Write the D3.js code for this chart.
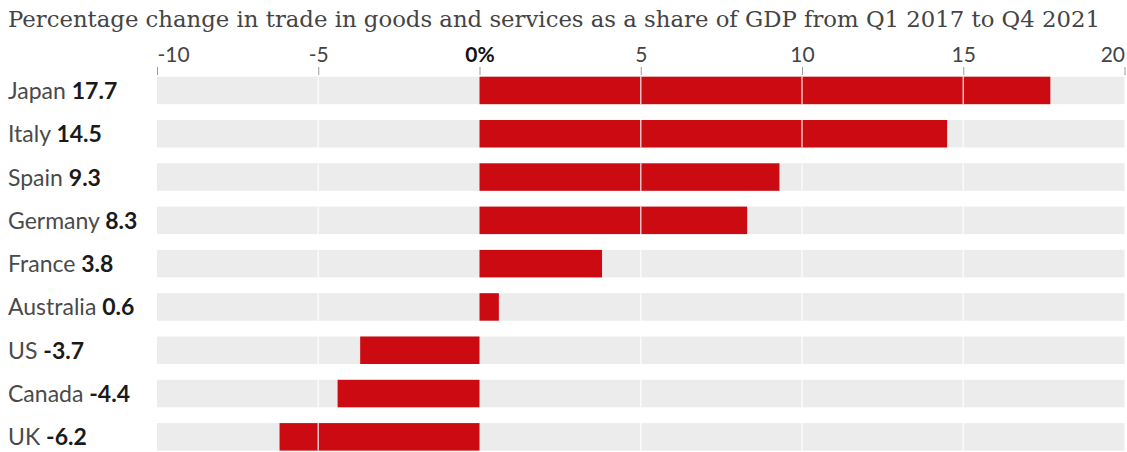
<!DOCTYPE html>
<meta charset="utf-8">
<style>
  body { margin: 0; background: #fff; }
</style>

<!-- Load d3.js -->
<script src="https://d3js.org/d3.v7.min.js"></script>

<!-- Create a div where the graph will take place -->
<div id="my_dataviz"></div>

<script>

// data
var countries = ["Japan", "Italy", "Spain", "Germany", "France", "Australia", "US", "Canada", "UK"]
var changes = [17.7, 14.5, 9.3, 8.3, 3.8, 0.6, -3.7, -4.4, -6.2]
var tickValues = [-10, -5, 0, 5, 10, 15, 20]
var gridValues = [-5, 5, 10, 15]
var title = "Percentage change in trade in goods and services as a share of GDP from Q1 2017 to Q4 2021"

var data = countries.map(function(c, i) { return {country: c, value: changes[i]} })

var width = 1127, height = 452

var svg = d3.select("#my_dataviz")
  .append("svg")
    .attr("width", width)
    .attr("height", height)

// title
svg.append("text")
  .attr("x", 8)
  .attr("y", 27)
  .attr("textLength", 1092)
  .attr("lengthAdjust", "spacingAndGlyphs")
  .style("font-family", "'DejaVu Serif', serif")
  .style("font-size", "22px")
  .style("fill", "#444")
  .text(title)

// X scale
var x = d3.scaleLinear()
  .domain([-10, 20])
  .range([157, 1124.5])

// Y scale, one band per country
var y = d3.scaleBand()
  .domain(countries)
  .range([76.7, 450.6])
  .paddingInner(0.365)
  .paddingOuter(0)

// axis on top
var axis = svg.append("g")
  .attr("transform", "translate(0,75)")
  .call(d3.axisTop(x)
    .tickValues(tickValues)
    .tickSize(8)
    .tickPadding(5)
    .tickFormat(function(d) { return d === 0 ? "0%" : d }))

axis.select(".domain").remove()
axis.selectAll(".tick line")
  .attr("stroke", "#9a9a9a")
axis.selectAll(".tick text")
  .style("font-family", "Lato, 'Open Sans', sans-serif")
  .style("font-size", "21px")
  .style("fill", function(d) { return d === 0 ? "#121212" : "#444" })
  .style("font-weight", function(d) { return d === 0 ? "bold" : "normal" })
  .attr("text-anchor", function(d) {
    if (d === -10) return "start"
    if (d === 20) return "end"
    return "middle"
  })

// gray background bars
svg.append("g")
  .selectAll("rect")
  .data(data)
  .enter()
  .append("rect")
    .attr("x", x(-10))
    .attr("width", x(20) - x(-10))
    .attr("y", function(d) { return y(d.country) })
    .attr("height", y.bandwidth())
    .style("fill", "#ececec")

// red value bars
svg.append("g")
  .selectAll("rect")
  .data(data)
  .enter()
  .append("rect")
    .attr("x", function(d) { return x(Math.min(0, d.value)) })
    .attr("width", function(d) { return Math.abs(x(d.value) - x(0)) })
    .attr("y", function(d) { return y(d.country) })
    .attr("height", y.bandwidth())
    .style("fill", "#cc0a11")

// white grid lines across the bars
var grid = svg.append("g")
data.forEach(function(d) {
  grid.selectAll(null)
    .data(gridValues)
    .enter()
    .append("line")
      .attr("x1", function(v) { return x(v) })
      .attr("x2", function(v) { return x(v) })
      .attr("y1", y(d.country))
      .attr("y2", y(d.country) + y.bandwidth())
      .style("stroke", "#fff")
      .style("stroke-opacity", 0.75)
      .style("stroke-width", 1.5)
})

// country labels
var labels = svg.append("g")
  .selectAll("text")
  .data(data)
  .enter()
  .append("text")
    .attr("x", 8)
    .attr("y", function(d) { return y(d.country) + y.bandwidth() / 2 + 8.5 })
    .style("font-family", "Lato, 'Open Sans', sans-serif")
    .style("font-size", "23px")
    .style("fill", "#4a4a4a")

labels.append("tspan")
  .text(function(d) { return d.country + " " })
labels.append("tspan")
  .style("font-weight", "bold")
  .style("fill", "#1a1a1a")
  .text(function(d) { return d.value })

</script>
